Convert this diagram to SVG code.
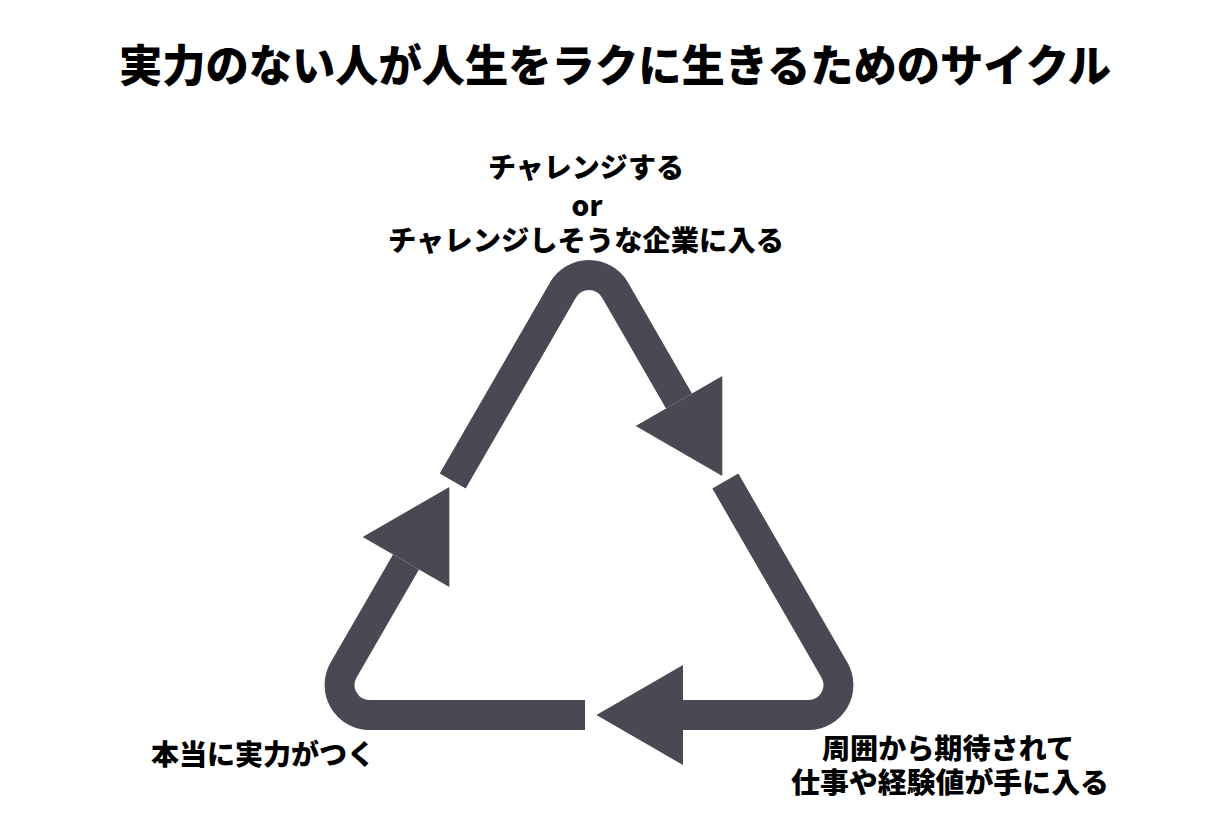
<svg xmlns="http://www.w3.org/2000/svg" width="1230" height="820" viewBox="0 0 1230 820">
  <style>
    .t { font-family: "Noto Sans CJK JP", "Noto Sans", sans-serif; font-weight: 900; fill: #000; text-anchor: middle; }
    .lbl { font-size: 28px; }
    .seg { fill: none; stroke: #4a4853; stroke-width: 30; stroke-linejoin: round; stroke-linecap: butt; }
    .head { fill: #4a4853; }
  </style>
  <rect width="1230" height="820" fill="#ffffff"/>
  <g id="title">
    <text class="t" x="615" y="82" font-size="44" textLength="992" lengthAdjust="spacingAndGlyphs">実力のない人が人生をラクに生きるためのサイクル</text>
  </g>
  <g id="connectors">
    <path class="seg" d="M452.7 481 L563 290 A30 30 0 0 1 615 290 L679 401"/>
    <polygon class="head" points="722.3,476 722.3,376 635.7,426"/>
    <path class="seg" d="M725.3 481 L834.4 670 A30 30 0 0 1 808.4 715 L683 715"/>
    <polygon class="head" points="596.4,715 683,665 683,765"/>
    <path class="seg" d="M585 715 L369.6 715 A30 30 0 0 1 343.6 670 L406 562"/>
    <polygon class="head" points="449.3,487 362.7,537 449.3,587"/>
  </g>
  <g id="node-challenge">
    <text class="t lbl" x="586" y="178" textLength="196" lengthAdjust="spacingAndGlyphs">チャレンジする</text>
    <text class="t lbl" x="587" y="216">or</text>
    <text class="t lbl" x="586" y="251" textLength="396" lengthAdjust="spacingAndGlyphs">チャレンジしそうな企業に入る</text>
  </g>
  <g id="node-expect">
    <text class="t lbl" x="948" y="759" textLength="252" lengthAdjust="spacingAndGlyphs">周囲から期待されて</text>
    <text class="t lbl" x="950" y="793" textLength="318" lengthAdjust="spacingAndGlyphs">仕事や経験値が手に入る</text>
  </g>
  <g id="node-skill">
    <text class="t lbl" x="263" y="765" textLength="224" lengthAdjust="spacingAndGlyphs">本当に実力がつく</text>
  </g>
</svg>
